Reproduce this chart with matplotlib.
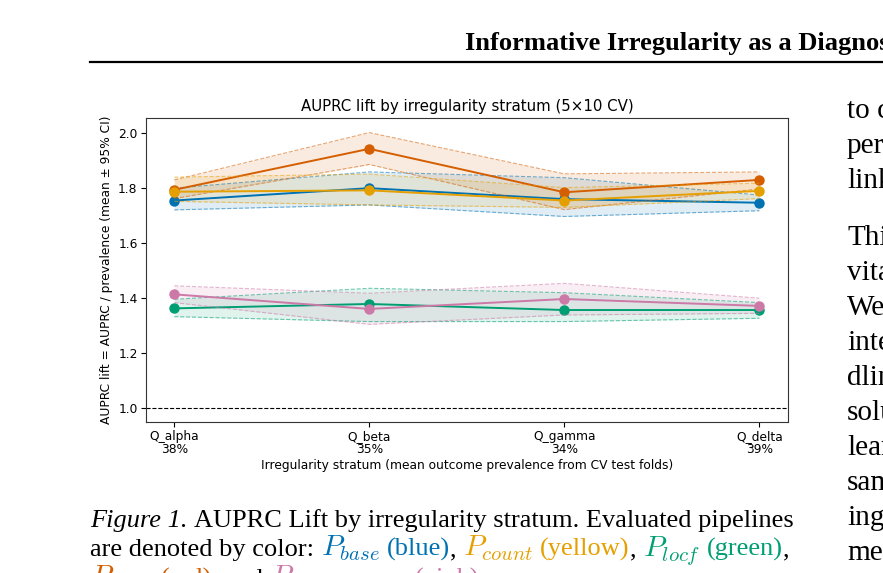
import matplotlib
matplotlib.use("Agg")
import matplotlib.pyplot as plt
from matplotlib.lines import Line2D
import numpy as np

# ---------------- data ----------------
strata = ["Q_alpha", "Q_beta", "Q_gamma", "Q_delta"]
prevalence = ["38%", "35%", "34%", "39%"]

pipelines = ["base", "miss", "count", "locf", "combo"]
colors = {"base": "#0072B2", "count": "#E69F00", "locf": "#009E73",
          "miss": "#D55E00", "combo": "#CC79A7"}

mean_base = [1.753, 1.798, 1.758, 1.745]
lo_base = [1.719, 1.737, 1.695, 1.716]
hi_base = [1.798, 1.857, 1.836, 1.773]

mean_count = [1.785, 1.790, 1.753, 1.788]
lo_count = [1.750, 1.737, 1.728, 1.760]
hi_count = [1.838, 1.849, 1.800, 1.816]

mean_locf = [1.361, 1.377, 1.355, 1.355]
lo_locf = [1.331, 1.313, 1.313, 1.325]
hi_locf = [1.394, 1.434, 1.418, 1.382]

mean_miss = [1.792, 1.941, 1.783, 1.828]
lo_miss = [1.760, 1.884, 1.720, 1.795]
hi_miss = [1.828, 2.000, 1.850, 1.857]

mean_combo = [1.412, 1.359, 1.395, 1.370]
lo_combo = [1.382, 1.303, 1.337, 1.343]
hi_combo = [1.443, 1.416, 1.452, 1.398]

series = {
    "base": (mean_base, lo_base, hi_base),
    "miss": (mean_miss, lo_miss, hi_miss),
    "count": (mean_count, lo_count, hi_count),
    "locf": (mean_locf, lo_locf, hi_locf),
    "combo": (mean_combo, lo_combo, hi_combo),
}

W, H = 883, 573
fig = plt.figure(figsize=(W / 100, H / 100), dpi=100)
fig.patch.set_facecolor("white")

# ---------------- chart ----------------
ax = fig.add_axes([146 / W, 1 - 422 / H, (788 - 146) / W, (422 - 118) / H])
x = np.arange(len(strata))
for name in pipelines:
    m, lo, hi = series[name]
    c = colors[name]
    ax.fill_between(x, lo, hi, color=c, alpha=0.12, linewidth=0)
    ax.plot(x, lo, "--", color=c, lw=0.8, alpha=0.55)
    ax.plot(x, hi, "--", color=c, lw=0.8, alpha=0.55)
    ax.plot(x, m, "-o", color=c, lw=1.4, markersize=6.5)

ax.axhline(1.0, color="black", lw=0.8, ls="--")
ax.set_xlim(-0.145, 3.147)
ax.set_ylim(0.948, 2.053)
ax.set_yticks([1.0, 1.2, 1.4, 1.6, 1.8, 2.0])
ax.set_xticks(x)
ax.set_xticklabels([f"{s}\n{p}" for s, p in zip(strata, prevalence)],
                   linespacing=1.0)
ax.tick_params(labelsize=8.8, length=3.5, width=0.8, pad=2.5)
for sp in ax.spines.values():
    sp.set_linewidth(0.8)
    sp.set_color("#333333")
ax.set_title("AUPRC lift by irregularity stratum (5×10 CV)", fontsize=10.8, pad=5)
ax.set_xlabel("Irregularity stratum (mean outcome prevalence from CV test folds)",
              fontsize=8.8, labelpad=2)
ax.set_ylabel("AUPRC lift = AUPRC / prevalence (mean ± 95% CI)", fontsize=8.8,
              labelpad=4)

# ---------------- page text ----------------
plt.rcParams["mathtext.fontset"] = "cm"
renderer = fig.canvas.get_renderer()
SERIF = "Liberation Serif"


def measure(txt, size, style="normal", weight="normal"):
    t = fig.text(0, 0, txt, fontsize=size, family=SERIF, style=style,
                 weight=weight)
    w = t.get_window_extent(renderer).width
    t.remove()
    return w


def draw_line(x_px, y_px, pieces, size):
    sp = measure("x x", size) - measure("xx", size)
    xx = x_px
    for txt, color, style in pieces:
        if txt == " ":
            xx += sp
            continue
        s = size * 1.12 if txt.startswith("$") else size
        t = fig.text(xx / W, 1 - y_px / H, txt, fontsize=s, family=SERIF,
                     style=style, color=color, va="baseline", ha="left")
        xx += t.get_window_extent(renderer).width


# caption size fitted to column width
line1 = [("Figure 1.", "black", "italic"), (" ", None, None),
         ("AUPRC Lift by irregularity stratum. Evaluated pipelines", "black", "normal")]
w10 = (measure("Figure 1.", 10, "italic") + (measure("x x", 10) - measure("xx", 10))
       + measure("AUPRC Lift by irregularity stratum. Evaluated pipelines", 10))
cap_size = 10 * 702 / w10
body_size = cap_size * 10 / 9

# header: fit "Informative Irregularity as a Diagno" to the visible width
hw10 = measure("Informative Irregularity as a Diagno", 10, weight="bold")
head_size = 10 * 416 / hw10
fig.text(465 / W, 1 - 50 / H, "Informative Irregularity as a Diagnostic Signal",
         fontsize=head_size, family=SERIF, weight="bold",
         va="baseline", ha="left")
fig.add_artist(Line2D([90 / W, 1.0], [1 - 61.5 / H, 1 - 61.5 / H],
                      transform=fig.transFigure, color="black", lw=1.6))

draw_line(90, 527, line1, cap_size)
line2 = [("are denoted by color:", "black", "normal"), (" ", None, None),
         (r"$P_{base}$", colors["base"], "normal"), (" ", None, None),
         ("(blue)", colors["base"], "normal"), (",", "black", "normal"), (" ", None, None),
         (r"$P_{count}$", colors["count"], "normal"), (" ", None, None),
         ("(yellow)", colors["count"], "normal"), (",", "black", "normal"), (" ", None, None),
         (r"$P_{locf}$", colors["locf"], "normal"), (" ", None, None),
         ("(green)", colors["locf"], "normal"), (",", "black", "normal")]
draw_line(90, 556, line2, cap_size)
line3 = [(r"$P_{miss}$", colors["miss"], "normal"), (" ", None, None),
         ("(red)", colors["miss"], "normal"), (",", "black", "normal"), (" ", None, None),
         ("and", "black", "normal"), (" ", None, None),
         (r"$P_{miss+count}$", colors["combo"], "normal"), (" ", None, None),
         ("(pink)", colors["combo"], "normal"), (".", "black", "normal")]
draw_line(90, 586, line3, cap_size)

# right column (cut off by the page crop)
right_lines = [("to capture", 118), ("performance", 153), ("linked", 188),
               ("This", 245), ("vital", 280), ("We", 315), ("integrate", 350),
               ("dling", 385), ("solution", 420), ("learning", 455),
               ("samples", 490), ("ing", 525), ("methods", 560)]
for txt, yb in right_lines:
    fig.text(847 / W, 1 - yb / H, txt, fontsize=body_size, family=SERIF,
             va="baseline", ha="left")

fig.savefig("out.png", dpi=100)
